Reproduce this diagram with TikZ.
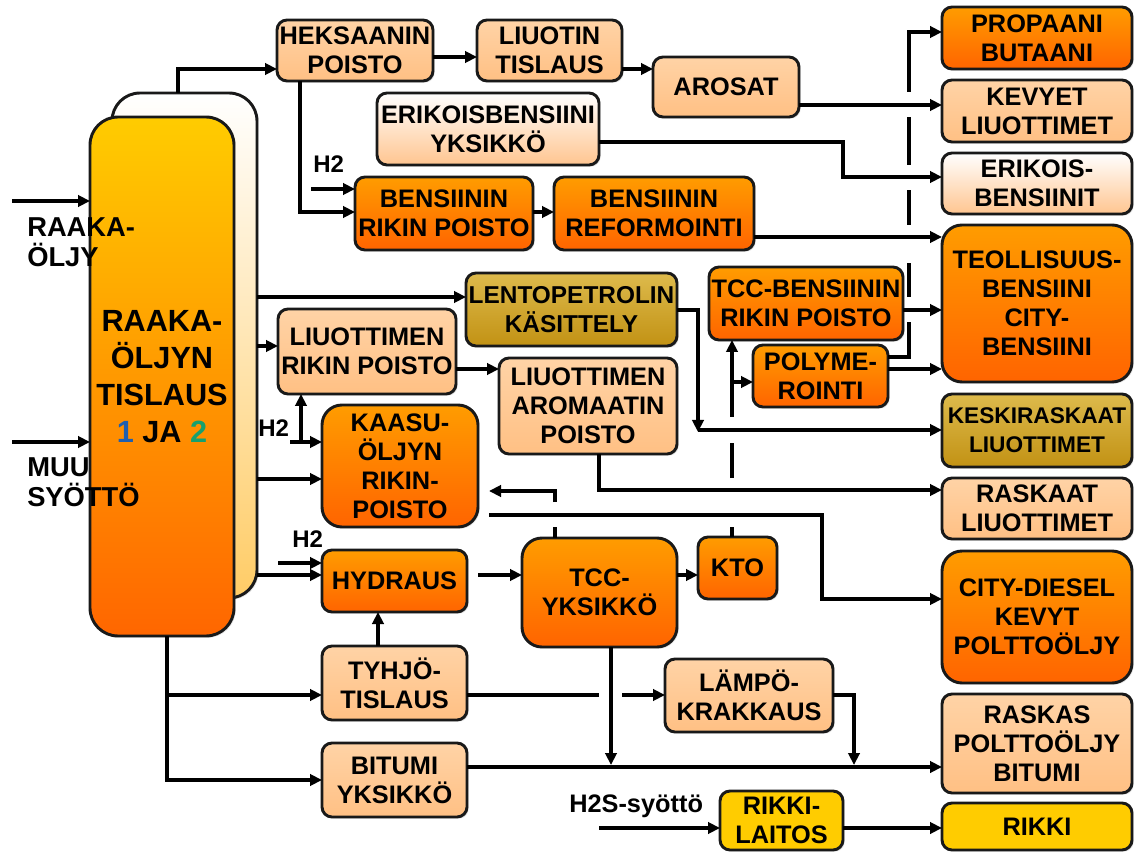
\documentclass[tikz,border=0pt]{standalone}
\usepackage{fontspec}
\setmainfont{Liberation Sans}
\usetikzlibrary{arrows.meta,shadows}
\definecolor{dkA}{HTML}{FF9C00}
\definecolor{dkB}{HTML}{FF6400}
\definecolor{pcA}{HTML}{FFD3A6}
\definecolor{pcB}{HTML}{FFC084}
\definecolor{wpB}{HTML}{FFC590}
\definecolor{olA}{HTML}{DDBA4C}
\definecolor{olB}{HTML}{C29214}
\definecolor{ylw}{HTML}{FFCC00}
\definecolor{colA}{HTML}{FFCC00}
\definecolor{colB}{HTML}{FF6600}
\definecolor{bkB}{HTML}{FFCC66}
\definecolor{numA}{HTML}{1F5FAF}
\definecolor{numB}{HTML}{17A06E}
\newcommand\bx[7]{%
 \pgfmathsetmacro\bxw{(#4-#2)*0.75}%
 \pgfmathsetmacro\bxh{(#5-#3)*0.75}%
 \node[box,#6,minimum width=\bxw pt,minimum height=\bxh pt] (#1) at ({(#2+#4)/2},{(#3+#5)/2}) {#7};}
\begin{document}
\begin{tikzpicture}[x=0.75pt,y=-0.75pt,
  box/.style={draw=black!90, line width=2.2pt, rounded corners=7.5pt, align=center,
    inner sep=0pt, outer sep=0pt, font=\bfseries\fontsize{19}{21.75}\selectfont,
    drop shadow={opacity=0.22,shadow xshift=1.3pt,shadow yshift=-1.3pt}},
  peach/.style={top color=pcA,bottom color=pcB},
  wpeach/.style={top color=white,bottom color=wpB},
  dork/.style={top color=dkA,bottom color=dkB},
  olive/.style={top color=olA,bottom color=olB},
  ylwbox/.style={fill=ylw},
  big/.style={rounded corners=15pt},
  lbl/.style={inner sep=0pt, font=\bfseries\fontsize{18}{22.5}\selectfont, align=left},
  ln/.style={line width=2.3pt},
  arr/.style={line width=2.3pt,-{Triangle[length=9pt,width=8.5pt]}}]
\useasboundingbox (0,0) rectangle (1136,852);

% column
\bx{colb}{112}{93}{257}{598}{top color=white,bottom color=bkB,rounded corners=21pt}{}
\bx{colf}{90}{117}{234}{636}{top color=colA,bottom color=colB,rounded corners=21pt,font=\bfseries\fontsize{23}{27.75}\selectfont}{RAAKA-\\ÖLJYN\\TISLAUS\\\textcolor{numA}{1} JA \textcolor{numB}{2}}

% boxes
\bx{hek}{277}{20}{433}{81}{peach}{HEKSAANIN\\POISTO}
\bx{liu}{477}{20}{622}{81}{peach}{LIUOTIN\\TISLAUS}
\bx{aro}{653}{57}{799}{117}{peach}{AROSAT}
\bx{eri}{377}{93}{599}{165}{wpeach}{ERIKOISBENSIINI\\YKSIKKÖ}
\bx{brp}{355}{177}{533}{250}{dork}{BENSIININ\\RIKIN POISTO}
\bx{bref}{554}{177}{754}{250}{dork}{BENSIININ\\REFORMOINTI}
\bx{prop}{942}{7}{1132}{69}{dork}{PROPAANI\\BUTAANI}
\bx{kev}{942}{80}{1132}{142}{peach}{KEVYET\\LIUOTTIMET}
\bx{erib}{942}{153}{1132}{214}{wpeach}{ERIKOIS-\\BENSIINIT}
\bx{teol}{942}{225}{1132}{382}{dork,big}{TEOLLISUUS-\\BENSIINI\\CITY-\\BENSIINI}
\bx{keski}{942}{394}{1132}{467}{olive,font=\bfseries\fontsize{17}{21.75}\selectfont}{KESKIRASKAAT\\LIUOTTIMET}
\bx{rask}{942}{478}{1132}{539}{peach}{RASKAAT\\LIUOTTIMET}
\bx{city}{942}{551}{1132}{683}{dork,big}{CITY-DIESEL\\KEVYT\\POLTTOÖLJY}
\bx{rbit}{942}{694}{1132}{793}{peach}{RASKAS\\POLTTOÖLJY\\BITUMI}
\bx{rikki}{942}{803}{1132}{850}{ylwbox}{RIKKI}
\bx{lrp}{278}{309}{456}{394}{peach}{LIUOTTIMEN\\RIKIN POISTO}
\bx{lento}{466}{273}{677}{346}{olive,font=\bfseries\fontsize{18.3}{21.75}\selectfont}{LENTOPETROLIN\\KÄSITTELY}
\bx{lap}{499}{358}{677}{454}{peach}{LIUOTTIMEN\\AROMAATIN\\POISTO}
\bx{tccb}{709}{267}{903}{340}{dork}{TCC-BENSIININ\\RIKIN POISTO}
\bx{poly}{753}{345}{888}{407}{dork}{POLYME-\\ROINTI}
\bx{kaasu}{322}{405}{478}{527}{dork,big}{KAASU-\\ÖLJYN\\RIKIN-\\POISTO}
\bx{hyd}{322}{550}{467}{612}{dork}{HYDRAUS}
\bx{tcc}{522}{538}{677}{647}{dork,big}{TCC-\\YKSIKKÖ}
\bx{kto}{698}{537}{777}{599}{dork}{KTO}
\bx{tyh}{322}{646}{467}{720}{peach}{TYHJÖ-\\TISLAUS}
\bx{bit}{322}{743}{467}{817}{peach}{BITUMI\\YKSIKKÖ}
\bx{lampo}{665}{659}{833}{732}{peach}{LÄMPÖ-\\KRAKKAUS}
\bx{rl}{720}{791}{843}{850}{ylwbox}{RIKKI-\\LAITOS}

% labels
\node[lbl,anchor=north west,font=\bfseries\fontsize{20.5}{22.5}\selectfont] (lraaka) at (27,217) {RAAKA-\\ÖLJY};
\node[lbl,anchor=north west,font=\bfseries\fontsize{20.5}{23}\selectfont] (lmuu) at (27,457) {MUU\\SYÖTTÖ};
\node[lbl,anchor=base west] (lh2a) at (313,173) {H2};
\node[lbl,anchor=base west] (lh2b) at (258,436) {H2};
\node[lbl,anchor=base west] (lh2c) at (292,547) {H2};
\node[lbl,anchor=base west,font=\bfseries\fontsize{19}{22}\selectfont] (lh2s) at (569,812) {H2S-syöttö};

% free ends
\coordinate (in1) at (12,201);
\coordinate (in2) at (12,442);
\coordinate (h2a) at (311,189);
\coordinate (h2b) at (290,442);
\coordinate (h2bj) at (301,442);
\coordinate (h2c) at (278,563);
\coordinate (h2s) at (599,828);
\coordinate (kj) at (698,430);
\coordinate (kin) at (489,491);
\coordinate (kout) at (489,515);
\coordinate (fj) at (167,695);

% inputs
\draw[arr] (in1) -- (colf.west |- in1);
\draw[arr] (in2) -- (colf.west |- in2);

% column outputs
\draw[arr] ([xshift=-4.9pt]colb.north) |- (hek.west |- 0,69);
\draw[arr] (colb.east |- 0,297) -- (lento.west |- 0,297);
\draw[arr] (colb.east |- 0,346) -- (lrp.west |- 0,346);
\draw[arr] (colb.east |- 0,479) -- (kaasu.west |- 0,479);
\draw[arr] (colb.east |- 0,575) -- (hyd.west |- 0,575);
\draw[arr] (colf.south -| fj) |- (bit.west |- 0,780);
\draw[arr] (fj) -- (tyh.west |- fj);

% top flows
\draw[arr] (hek.east |- 0,57) -- (liu.west |- 0,57);
\draw[arr] (liu.east |- 0,69) -- (aro.west |- 0,69);
\draw[arr] (aro.east |- 0,105) -- (kev.west |- 0,105);
\draw[arr] (eri.east |- 0,142) -- (843,142) -- (843,177) -- (erib.west |- 0,177);
\draw[arr] (hek.south -| 300,0) |- (brp.west |- 0,212);
\draw[arr] (h2a) -- (brp.west |- h2a);
\draw[arr] (brp.east |- 0,212) -- (bref.west |- 0,212);
\draw[arr] (bref.east |- 0,237) -- (teol.west |- 0,237);

% H2 middle
\draw[arr] (h2b) -- (kaasu.west |- h2b);
\draw[arr] (h2bj) -- (lrp.south -| h2bj);
\draw[arr] (h2c) -- (hyd.west |- h2c);

% middle flows
\draw[arr] (lrp.east |- 0,369) -- (lap.west |- 0,369);
\draw[arr] (lento.east |- 0,310) -| ([yshift=-1.5pt]kj);
\draw[arr] (kj) -- (keski.west |- kj);
\draw[arr] (lap.south -| 599,0) |- (rask.west |- 0,490);
\draw[arr] (tccb.east |- 0,310) -- (teol.west |- 0,310);
\draw[arr] (poly.east |- 0,369) -- (teol.west |- 0,369);
\draw[ln] (poly.east |- 0,357) -- (909,357) -- (909,322) (909,297) -- (909,263)
  (909,225) -- (909,190) (909,165) -- (909,117);
\draw[arr] (909,92) |- (prop.west |- 0,32);
\draw[ln] (kto.north -| 732,0) -- (732,527) (732,478) -- (732,443);
\draw[arr] (732,417) -- (tccb.south -| 732,0);
\draw[arr] (732,382) -- (poly.west |- 0,382);

% TCC region
\draw[ln] (tcc.north -| 555,0) -- (555,527);
\draw[arr] (555,502) |- (kin);
\draw[arr] (kout) -| (822,599) -- (city.west |- 0,599);
\draw[arr] (478,575) -- (tcc.west |- 0,575);
\draw[arr] (tcc.east |- 0,575) -- (kto.west |- 0,575);
\draw[arr] (tyh.north -| 378,0) -- (hyd.south -| 378,0);
\draw[ln] (tyh.east |- fj) -- (599,695);
\draw[arr] (622,695) -- (lampo.west |- 0,695);
\draw[arr] (tcc.south -| 611,0) -- (611,765);
\draw[arr] (lampo.east |- 0,695) -| (854,765);
\draw[arr] (bit.east |- 0,767) -- (rbit.west |- 0,767);
\draw[arr] (h2s) -- (rl.west |- h2s);
\draw[arr] (rl.east |- 0,828) -- (rikki.west |- 0,828);
\end{tikzpicture}
\end{document}
